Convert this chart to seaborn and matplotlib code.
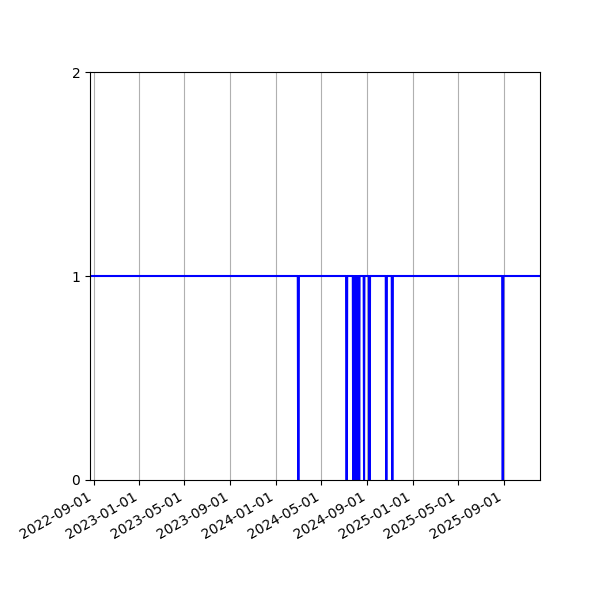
import pandas as pd
import matplotlib
matplotlib.use("Agg")
import matplotlib.pyplot as plt
import matplotlib.dates as mdates
import seaborn as sns

# daily status series: 1 most days, 0 on the days listed below
START_DATE = "2022-08-22"
END_DATE = "2025-12-06"
ZERO_DAYS = [
    "2024-02-29", "2024-03-01",
    "2024-07-07", "2024-07-08",
    "2024-07-25", "2024-07-27", "2024-07-29", "2024-07-31", "2024-08-02",
    "2024-08-04", "2024-08-06", "2024-08-08", "2024-08-10",
    "2024-08-23",
    "2024-09-06", "2024-09-07",
    "2024-10-21", "2024-10-22",
    "2024-11-06", "2024-11-07",
    "2025-08-28", "2025-08-29",
]
Y_TICKS = [0, 1, 2]

dates = pd.date_range(START_DATE, END_DATE, freq="D")
status = pd.Series(1, index=dates)
status.loc[pd.to_datetime(ZERO_DAYS)] = 0
df = pd.DataFrame({"date": dates, "status": status.values})

fig, ax = plt.subplots(figsize=(6, 6), dpi=100)
sns.lineplot(data=df, x="date", y="status", color="blue", linewidth=1.5, ax=ax)

ax.set_ylim(0, 2)
ax.set_yticks(Y_TICKS)
ax.set_xlim(dates[0], dates[-1])
ax.xaxis.set_major_locator(mdates.MonthLocator(bymonth=[1, 5, 9]))
ax.xaxis.set_major_formatter(mdates.DateFormatter("%Y-%m-%d"))
ax.grid(axis="x")
ax.set_xlabel("")
ax.set_ylabel("")

fig.autofmt_xdate()
fig.subplots_adjust(left=0.15, right=0.9, top=0.88, bottom=0.2)
plt.savefig("out.png", dpi=100)
plt.close()
